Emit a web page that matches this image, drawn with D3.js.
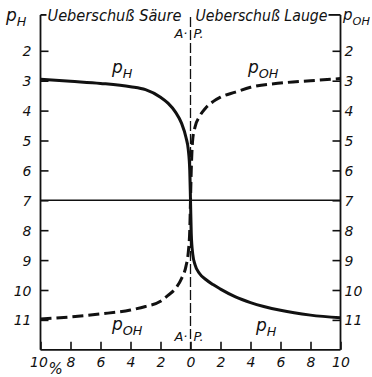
<!DOCTYPE html>
<html>
<head>
<meta charset="utf-8">
<script src="https://cdn.jsdelivr.net/npm/d3@7/dist/d3.min.js"></script>
<style>
  html, body { margin: 0; padding: 0; background: #fff; }
  svg text { font-family: "DejaVu Sans", sans-serif; font-style: italic; fill: #111; }
</style>
</head>
<body>
<svg id="chart" width="372" height="377"></svg>
<script>
// Excess of acid (negative) or lye (positive), in percent
const excessPct = [-10, -8, -6, -4, -3, -2, -1.5, -1, -0.6, -0.3, -0.15, -0.05, 0,
                   0.05, 0.15, 0.3, 0.6, 1, 1.5, 2, 3, 4, 6, 8, 10];
// p_H along the excess axis
const pH = [2.95, 3.02, 3.09, 3.2, 3.3, 3.55, 3.75, 4.05, 4.42, 4.9, 5.3, 6.0, 7,
            8.1, 8.8, 9.15, 9.45, 9.64, 9.82, 9.97, 10.23, 10.42, 10.68, 10.84, 10.93];
// p_OH along the excess axis
const pOH = [10.97, 10.9, 10.8, 10.67, 10.55, 10.38, 10.18, 9.95, 9.62, 9.2, 8.75, 8.0, 7,
             6.0, 4.95, 4.55, 4.2, 3.92, 3.7, 3.55, 3.38, 3.22, 3.08, 3.0, 2.93];
// Tick values
const xTicks = [-10, -8, -6, -4, -2, 0, 2, 4, 6, 8, 10];
const yTicks = [2, 3, 4, 5, 6, 7, 8, 9, 10, 11];

const svg = d3.select("#chart");
const x = d3.scaleLinear().domain([-10, 10]).range([40.5, 340.5]);
const y = d3.scaleLinear().domain([3, 11]).range([80.7, 319.9]);
const yTop = y(0.8), yBot = y(12);

const ink = "#111";

// Left axis (p_H)
const gL = svg.append("g").attr("transform", `translate(${x(-10)},0)`)
  .call(d3.axisLeft(y).tickValues(yTicks).tickSize(-8).tickSizeOuter(0).tickPadding(9));
// Right axis (p_OH)
const gR = svg.append("g").attr("transform", `translate(${x(10)},0)`)
  .call(d3.axisRight(y).tickValues(yTicks).tickSize(-8).tickSizeOuter(0).tickPadding(4));
// Bottom axis (percent excess)
const gB = svg.append("g").attr("transform", `translate(0,${yBot})`)
  .call(d3.axisBottom(x).tickValues(xTicks).tickSize(-8).tickSizeOuter(0).tickPadding(14)
    .tickFormat(d => Math.abs(d)));

[gL, gR, gB].forEach(g => {
  g.select(".domain").remove();
  g.selectAll(".tick line").attr("stroke", ink).attr("stroke-width", 1.6);
  g.selectAll(".tick text").attr("font-size", 14).attr("fill", ink)
    .style("font-family", '"DejaVu Sans", sans-serif').style("font-style", "italic");
});
gL.selectAll(".tick text").attr("dy", "0.36em");
gR.selectAll(".tick text").attr("dy", "0.36em");
gB.selectAll(".tick text").attr("dy", "0.2em");
gB.selectAll(".tick").filter(d => d === -10).select("text").attr("dx", -2);

// Frame: left, right and bottom sides
const frame = svg.append("g").attr("stroke", ink).attr("stroke-width", 1.8).attr("fill", "none");
frame.append("line").attr("x1", x(-10)).attr("x2", x(-10)).attr("y1", yTop).attr("y2", yBot);
frame.append("line").attr("x1", x(10)).attr("x2", x(10)).attr("y1", yTop).attr("y2", yBot);
frame.append("line").attr("x1", x(-10)).attr("x2", x(10)).attr("y1", yBot).attr("y2", yBot);

// Neutral line at 7
svg.append("line").attr("x1", x(-10)).attr("x2", x(10)).attr("y1", y(7)).attr("y2", y(7))
  .attr("stroke", ink).attr("stroke-width", 1.5);

// Equivalence point line (A.P.)
svg.append("line").attr("x1", x(0)).attr("x2", x(0)).attr("y1", yTop + 2).attr("y2", yBot)
  .attr("stroke", ink).attr("stroke-width", 1.3).attr("stroke-dasharray", "10,3");

// Headings sitting on the top edge
const head = svg.append("g").attr("font-size", 15);
head.append("text").attr("x", x(-10) + 7).attr("y", yTop + 6)
  .attr("textLength", 134).attr("lengthAdjust", "spacingAndGlyphs").text("Ueberschuß Säure");
head.append("text").attr("x", x(0) + 5).attr("y", yTop + 6)
  .attr("textLength", 132).attr("lengthAdjust", "spacingAndGlyphs").text("Ueberschuß Lauge");
frame.append("line").attr("x1", x(-10)).attr("x2", x(-10) + 6).attr("y1", yTop).attr("y2", yTop);
frame.append("line").attr("x1", x(0) + 5 + 133).attr("x2", x(10)).attr("y1", yTop).attr("y2", yTop);

// Curves
const line = d3.line().x((d, i) => x(excessPct[i])).y(d => y(d)).curve(d3.curveMonotoneX);
svg.append("path").datum(pOH).attr("d", line).attr("fill", "none")
  .attr("stroke", ink).attr("stroke-width", 3).attr("stroke-dasharray", "11,5");
svg.append("path").datum(pH).attr("d", line).attr("fill", "none")
  .attr("stroke", ink).attr("stroke-width", 3);

// p-labels with subscripts
function pLabel(px, py, sub, size) {
  const t = svg.append("text").attr("x", px).attr("y", py).attr("font-size", size);
  t.append("tspan").text("p");
  t.append("tspan").attr("dy", 5).attr("font-size", size * 0.75).text(sub);
  return t;
}
pLabel(6, 21, "H", 17);
pLabel(343, 20, "OH", 15);
pLabel(112, 73, "H", 17);
pLabel(248, 73, "OH", 17);
pLabel(112, 330, "OH", 17);
pLabel(256, 331, "H", 17);

// A.P. marks at both ends of the equivalence line
[38, 341].forEach(by => {
  svg.append("text").attr("x", x(0) - 3).attr("y", by).attr("font-size", 13)
    .attr("text-anchor", "end").text("A·");
  svg.append("text").attr("x", x(0) + 3).attr("y", by).attr("font-size", 13).text("P.");
});

// Percent sign beside the first bottom label
svg.append("text").attr("x", x(-10) + 8).attr("y", 374).attr("font-size", 15).text("%");
</script>
</body>
</html>
